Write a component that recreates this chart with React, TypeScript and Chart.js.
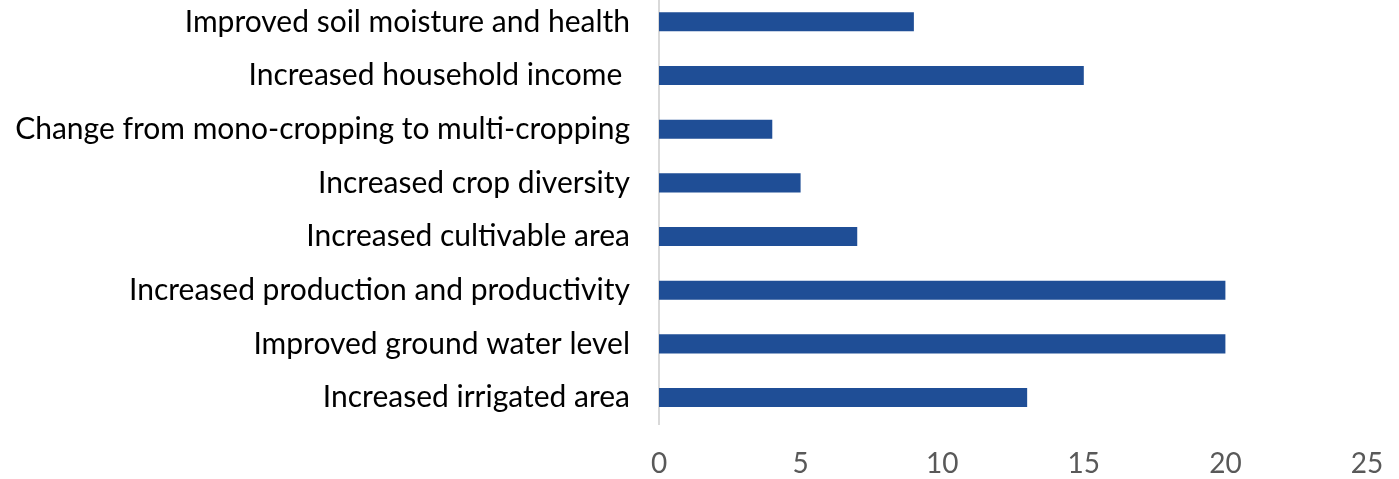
import React, { useEffect, useRef } from "react";
import { Chart, registerables } from "chart.js";

Chart.register(...registerables);

const categories = [
  "Improved soil moisture and health",
  "Increased household income ",
  "Change from mono-cropping to multi-cropping",
  "Increased crop diversity",
  "Increased cultivable area",
  "Increased production and productivity",
  "Improved ground water level",
  "Increased irrigated area",
];
const values = [9, 15, 4, 5, 7, 20, 20, 13];
const xTicks = [0, 5, 10, 15, 20, 25];

const FONT = "Lato, 'Liberation Sans', sans-serif";

export default function App() {
  const ref = useRef<HTMLCanvasElement | null>(null);
  useEffect(() => {
    if (!ref.current) return;
    const chart = new Chart(ref.current, {
      type: "bar",
      data: {
        labels: categories,
        datasets: [
          {
            data: values,
            backgroundColor: "#1f4e96",
            borderWidth: 0,
            categoryPercentage: 1,
            barPercentage: 0.355,
          },
        ],
      },
      options: {
        indexAxis: "y",
        responsive: false,
        animation: false,
        layout: { padding: { left: 0, right: 32, top: 0, bottom: 0 } },
        plugins: { legend: { display: false }, tooltip: { enabled: false } },
        scales: {
          x: {
            min: 0,
            max: 25,
            afterBuildTicks: (scale: any) => {
              scale.ticks = xTicks.map((v) => ({ value: v }));
            },
            afterFit: (scale: any) => {
              scale.paddingLeft = 0;
              scale.paddingRight = 0;
            },
            grid: { display: false, drawTicks: false },
            border: { display: false },
            ticks: {
              color: "#595959",
              font: { family: FONT, size: 28 },
              padding: 23,
              maxRotation: 0,
            },
          },
          y: {
            grid: { display: false, drawTicks: false },
            border: { display: true, color: "#d9d9d9", width: 2 },
            afterFit: (scale: any) => {
              scale.width = 659;
              scale.paddingTop = 0;
              scale.paddingBottom = 0;
            },
            ticks: {
              color: "#000000",
              font: { family: FONT, size: 30 },
              padding: 29,
              autoSkip: false,
            },
          },
        },
      },
    });
    return () => chart.destroy();
  }, []);
  return (
    <div
      style={{
        position: "fixed",
        left: 0,
        top: 0,
        width: 1399,
        height: 479,
        overflow: "hidden",
        background: "#fff",
      }}
    >
      <canvas
        ref={ref}
        width={1399}
        height={509}
        style={{ position: "absolute", left: 0, top: -5, width: 1399, height: 509 }}
      />
    </div>
  );
}
